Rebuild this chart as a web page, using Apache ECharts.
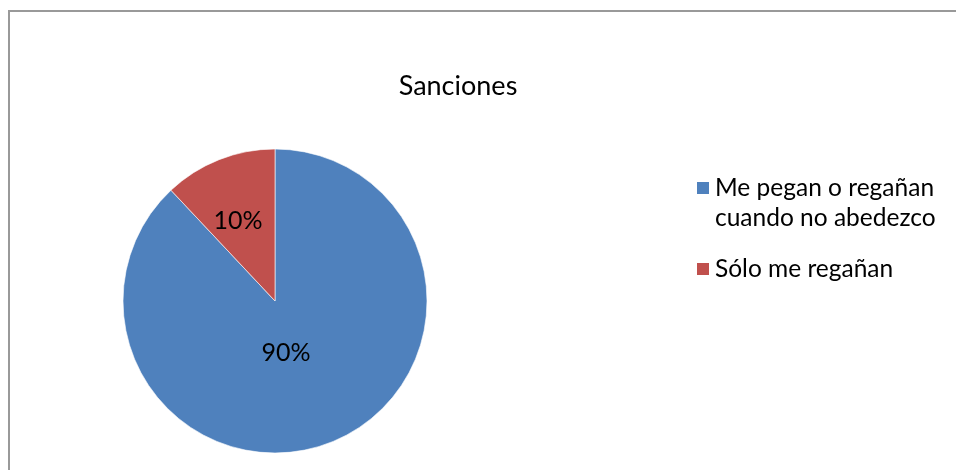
<!DOCTYPE html>
<html>
<head>
<meta charset="utf-8">
<script src="https://cdn.jsdelivr.net/npm/echarts@6/dist/echarts.min.js"></script>
<style>
html,body{margin:0;padding:0;background:#fff;}
#c{width:956px;height:470px;}
</style>
</head>
<body>
<div id="c"></div>
<script>
const titleText = 'Sanciones';
const categories = ['Me pegan o regañan cuando no abedezco', 'Sólo me regañan'];
const legendLabels = ['\nMe pegan o regañan\ncuando no abedezco', 'Sólo me regañan'];
const values = [88, 12];
const sliceLabels = ['90%', '10%'];
const colors = ['#4F81BD', '#C0504D'];

const FONT = 'Lato';
const chart = echarts.init(document.getElementById('c'));
const pieData = categories.map((name, i) => ({
  name: name,
  value: values[i],
  itemStyle: { color: colors[i] },
  label: { offset: i === 0 ? [-18, -22] : [-8, -7] }
}));

const legendCommon = {
  orient: 'vertical',
  icon: 'rect', itemWidth: 14, itemHeight: 14, itemGap: 6,
  textStyle: { fontFamily: FONT, fontSize: 24.5, lineHeight: 30, color: '#000' }
};

chart.setOption({
  animation: false,
  backgroundColor: '#fff',
  title: {
    text: titleText,
    left: 453, top: 81,
    textAlign: 'center', textVerticalAlign: 'middle',
    textStyle: { fontFamily: FONT, fontSize: 27, fontWeight: 'normal', color: '#000' }
  },
  graphic: [
    { type: 'line', shape: { x1: 9, y1: 11, x2: 9, y2: 470 }, style: { stroke: '#999', lineWidth: 2 } },
    { type: 'line', shape: { x1: 8, y1: 11, x2: 956, y2: 11 }, style: { stroke: '#999', lineWidth: 2 } }
  ],
  legend: [
    Object.assign({}, legendCommon, {
      data: [categories[0]],
      left: 690, top: 138,
      formatter: () => legendLabels[0]
    }),
    Object.assign({}, legendCommon, {
      data: [categories[1]],
      left: 690, top: 249,
      formatter: () => legendLabels[1]
    })
  ],
  series: [{
    type: 'pie',
    center: [275, 301],
    radius: 152,
    startAngle: 90,
    clockwise: true,
    avoidLabelOverlap: false,
    itemStyle: { borderColor: '#fff', borderWidth: 0.6 },
    label: {
      show: true,
      position: 'inside',
      formatter: p => sliceLabels[p.dataIndex],
      fontFamily: FONT, fontSize: 25, color: '#000'
    },
    labelLine: { show: false },
    emphasis: { disabled: true },
    data: pieData
  }]
});
</script>
</body>
</html>
